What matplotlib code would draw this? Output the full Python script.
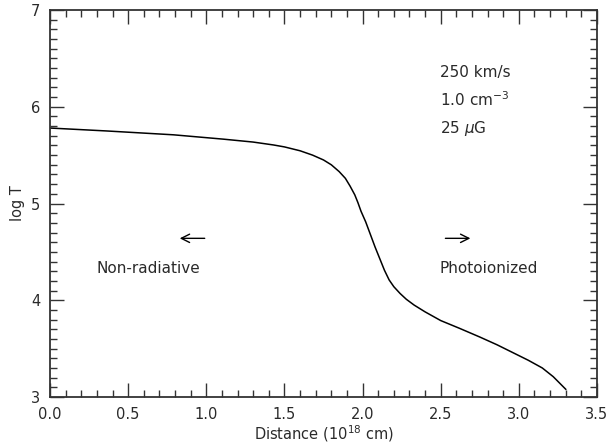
import matplotlib
matplotlib.use("Agg")
import matplotlib.pyplot as plt
from matplotlib.ticker import MultipleLocator, FormatStrFormatter

distance = [0.0, 0.36, 0.79, 1.11, 1.30, 1.43, 1.50, 1.60, 1.68, 1.75, 1.80, 1.85, 1.89,
            1.92, 1.95, 1.97, 1.99, 2.02, 2.05, 2.08, 2.11, 2.14, 2.17, 2.20, 2.24,
            2.28, 2.33, 2.40, 2.50, 2.62, 2.75, 2.86, 2.96, 3.06, 3.15, 3.22, 3.30]
log_t = [5.78, 5.75, 5.71, 5.665, 5.635, 5.605, 5.585, 5.545, 5.50, 5.45, 5.40, 5.33, 5.26,
         5.18, 5.09, 5.01, 4.92, 4.81, 4.68, 4.55, 4.43, 4.31, 4.21, 4.14, 4.07,
         4.01, 3.95, 3.88, 3.79, 3.71, 3.62, 3.54, 3.46, 3.38, 3.30, 3.21, 3.08]

params = ["250 km/s", "1.0 cm$^{-3}$", "25 $\\mu$G"]
param_y = [6.35, 6.07, 5.78]
left_label = "Non-radiative"
right_label = "Photoionized"

plt.rcParams['font.family'] = ['DejaVu Sans']
plt.rcParams['mathtext.fontset'] = 'dejavusans'
tc = '#2a2a2a'

fig = plt.figure(figsize=(6.13, 4.45), dpi=100)
ax = fig.add_axes([50/613, 1-397/445, 547/613, 387/445])
ax.plot(distance, log_t, color='black', lw=1.1)
ax.set_xlim(0, 3.5)
ax.set_ylim(3, 7)
ax.xaxis.set_major_locator(MultipleLocator(0.5))
ax.xaxis.set_minor_locator(MultipleLocator(0.1))
ax.yaxis.set_major_locator(MultipleLocator(1))
ax.yaxis.set_minor_locator(MultipleLocator(0.1))
ax.xaxis.set_major_formatter(FormatStrFormatter('%.1f'))
ax.yaxis.set_major_formatter(FormatStrFormatter('%d'))
ax.tick_params(which='both', direction='in', top=True, right=True, color='#333333',
               labelsize=10.5, labelcolor=tc, width=1.0)
ax.tick_params(which='major', length=10, pad=7)
ax.tick_params(which='minor', length=5)
for s in ax.spines.values():
    s.set_linewidth(1.3)
    s.set_color('#333333')

ax.set_xlabel("Distance (10$^{18}$ cm)", fontsize=10.5, color=tc, labelpad=1)
ax.set_ylabel("log T", fontsize=10.5, color=tc, labelpad=4)

for p, yv in zip(params, param_y):
    ax.text(2.495, yv, p, fontsize=11, color=tc, va='center', ha='left')

ax.text(0.30, 4.33, left_label, fontsize=11, color=tc, va='center', ha='left')
ax.text(2.495, 4.33, right_label, fontsize=11, color=tc, va='center', ha='left')

astyle = dict(arrowstyle='->,head_length=0.6,head_width=0.3', color='black', lw=1.0,
              shrinkA=0, shrinkB=0)
ax.annotate("", xy=(0.83, 4.64), xytext=(0.99, 4.64), arrowprops=astyle)
ax.annotate("", xy=(2.69, 4.64), xytext=(2.53, 4.64), arrowprops=astyle)

fig.savefig("out.png", dpi=100)
